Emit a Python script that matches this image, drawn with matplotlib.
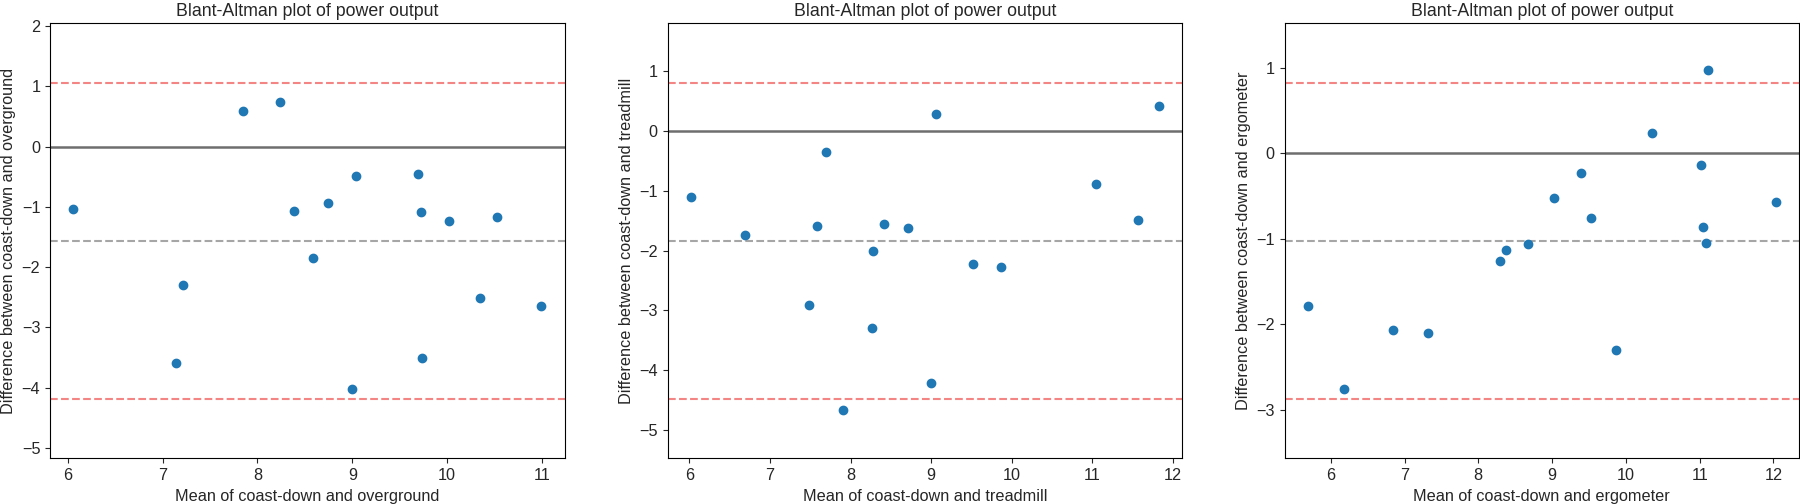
import matplotlib
matplotlib.use('Agg')
import matplotlib.pyplot as plt
import numpy as np

plt.rcParams['font.family'] = ['Liberation Sans', 'DejaVu Sans']
plt.rcParams['text.color'] = '.15'
plt.rcParams['axes.labelcolor'] = '.15'
plt.rcParams['xtick.color'] = '.15'
plt.rcParams['ytick.color'] = '.15'

title = 'Blant-Altman plot of power output'
methods = ['overground', 'treadmill', 'ergometer']

# mean of the two methods (x) and their difference (y)
mean_overground = [6.06, 7.85, 8.24, 7.22, 7.14, 8.39, 8.74, 8.59, 9.04,
                   9.00, 9.69, 9.72, 9.73, 10.02, 10.52, 10.35, 10.99]
diff_overground = [-1.03, 0.59, 0.74, -2.30, -3.59, -1.06, -0.94, -1.85, -0.48,
                   -4.02, -0.45, -1.08, -3.51, -1.24, -1.17, -2.51, -2.64]

mean_treadmill = [6.02, 6.69, 7.48, 7.58, 7.70, 7.91, 8.27, 8.28, 8.42,
                  8.71, 9.00, 9.06, 9.52, 9.86, 11.04, 11.57, 11.82]
diff_treadmill = [-1.11, -1.74, -2.91, -1.59, -0.36, -4.67, -3.29, -2.00, -1.56,
                  -1.62, -4.21, 0.28, -2.23, -2.27, -0.88, -1.49, 0.42]

mean_ergometer = [5.69, 6.18, 6.84, 7.32, 8.29, 8.37, 8.67, 9.03, 9.39,
                  9.53, 9.86, 10.36, 11.02, 11.05, 11.08, 11.12, 12.03]
diff_ergometer = [-1.78, -2.76, -2.07, -2.10, -1.26, -1.13, -1.06, -0.52, -0.23,
                  -0.76, -2.30, 0.24, -0.14, -0.86, -1.05, 0.97, -0.57]

means = [mean_overground, mean_treadmill, mean_ergometer]
diffs = [diff_overground, diff_treadmill, diff_ergometer]

fig = plt.figure(figsize=(18, 5.04), dpi=100)

lefts = [50, 667.5, 1284.5]
for i in range(3):
    ax = fig.add_axes([lefts[i] / 1800, 45.7 / 504, 514.5 / 1800, 435 / 504])
    m = np.asarray(means[i])
    d = np.asarray(diffs[i])
    md = np.mean(d)
    sd = np.std(d)

    ax.scatter(m, d, s=36, color='#1f77b4', zorder=3)
    ax.axhline(md, color='#a6a6a6', linestyle='--', linewidth=1.5)
    ax.axhline(md + 1.96 * sd, color='#f38585', linestyle='--', linewidth=1.5)
    ax.axhline(md - 1.96 * sd, color='#f38585', linestyle='--', linewidth=1.5)
    ax.axhline(0, color='#6e6e6e', linewidth=1.8)
    ax.set_ylim(md - 2.7 * sd, md + 2.7 * sd)

    ax.set_title(title, fontsize=12.8, pad=5)
    ax.set_xlabel('Mean of coast-down and ' + methods[i], fontsize=11.7)
    ax.set_ylabel('Difference between coast-down and ' + methods[i], fontsize=11.7)
    ax.tick_params(labelsize=11.7, length=3.5)

fig.savefig('out.png', dpi=100)
